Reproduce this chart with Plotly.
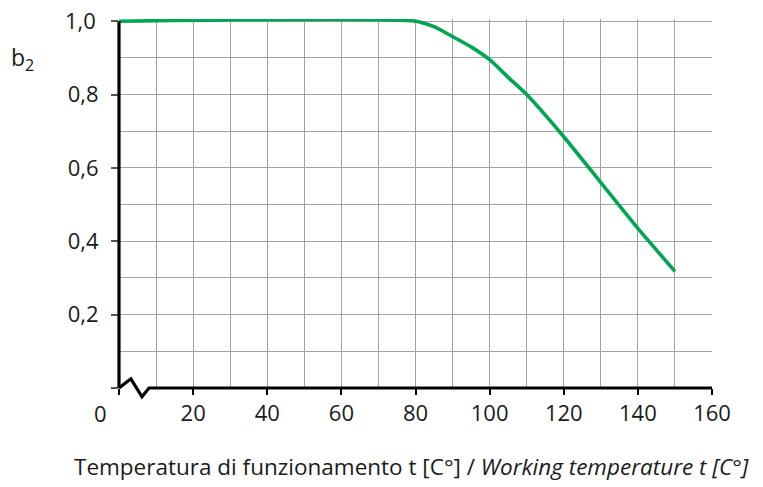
import plotly.graph_objects as go

# Data
temperature = [0, 80, 85, 90, 95, 100, 105, 110, 120, 130, 140, 150]
b2_values = [1.0, 1.0, 0.985, 0.958, 0.93, 0.895, 0.847, 0.80, 0.685, 0.56, 0.435, 0.318]

x_tickvals = [0, 20, 40, 60, 80, 100, 120, 140, 160]
x_ticktext = ["0", "20", "40", "60", "80", "100", "120", "140", "160"]
y_tickvals = [0, 0.2, 0.4, 0.6, 0.8, 1.0]
y_ticktext = ["", "0,2", "0,4", "0,6", "0,8", "1,0"]

FONT = "Open Sans"
TXT = "#1a1a1a"
GREEN = "#00a651"
GRID = "#a3a3a3"
Y_TOP = 1.006

# page geometry (body margin removed by post_script)
PL, PR, PT, PB = 118.5, 712.0, 19.0, 388.3   # plot area in page pixels
W, H = 763, 487


def paper_x(px):
    return (px - PL) / (PR - PL)


def paper_y(py):
    return (PB - py) / (PB - PT)


fig = go.Figure()
fig.add_trace(go.Scatter(
    x=temperature, y=b2_values, mode="lines",
    line=dict(color=GREEN, width=3.6, shape="spline", smoothing=0.6),
    hoverinfo="skip", showlegend=False,
))

fig.update_layout(
    width=W, height=H,
    margin=dict(l=PL, r=W - PR, t=PT, b=H - PB),
    paper_bgcolor="white", plot_bgcolor="white",
    font=dict(family=FONT, size=22, color=TXT),
    xaxis=dict(
        range=[0, 160], showline=False, zeroline=False, automargin=False,
        showgrid=True, gridcolor=GRID, gridwidth=1.3,
        tickmode="array", tickvals=x_tickvals, ticktext=[""] + x_ticktext[1:],
        ticks="outside", ticklen=6, tickwidth=2, tickcolor="black",
        tickfont=dict(family=FONT, size=22, color=TXT),
        minor=dict(dtick=10, showgrid=True, gridcolor=GRID, gridwidth=1.3),
    ),
    yaxis=dict(
        range=[0, Y_TOP], showline=False, zeroline=False, automargin=False,
        showgrid=True, gridcolor=GRID, gridwidth=1.3,
        tickmode="array", tickvals=y_tickvals, ticktext=y_ticktext[:-1] + [""],
        ticks="outside", ticklen=7, tickwidth=1.6, tickcolor="#555",
        ticklabelstandoff=8,
        tickfont=dict(family=FONT, size=22, color=TXT),
        minor=dict(dtick=0.1, showgrid=True, gridcolor=GRID, gridwidth=1.3),
    ),
)

# Axis lines and the axis-break zigzag (decoration)
fig.add_shape(type="line", xref="x domain", yref="y domain",
              x0=0, x1=0, y0=0, y1=1.0 / Y_TOP,
              line=dict(color="black", width=3.2), layer="above")
zig = "M 0,0 L 0.02,0.0249 L 0.0388,-0.0239 L 0.0506,0 L 1,0"
fig.add_shape(type="path", xref="x domain", yref="y domain", path=zig,
              line=dict(color="black", width=3.2), layer="above")

# "0" tick label shifted left because of the axis break
fig.add_annotation(x=x_tickvals[0], y=0, xref="x", yref="y", text=x_ticktext[0],
                   showarrow=False, xshift=-18.5, yshift=-25,
                   font=dict(family=FONT, size=22, color=TXT))

# top "1,0" label
fig.add_annotation(x=0, y=y_tickvals[-1], xref="paper", yref="y",
                   xanchor="right", yanchor="middle", xshift=-21.5, yshift=1,
                   text=y_ticktext[-1], showarrow=False,
                   font=dict(family=FONT, size=22, color=TXT))

# y label b2
fig.add_annotation(x=paper_x(22), y=paper_y(59), xref="paper", yref="paper",
                   xanchor="center", yanchor="middle",
                   text="b<sub>2</sub>", showarrow=False,
                   font=dict(family=FONT, size=23, color=TXT))

# x title
fig.add_annotation(
    x=paper_x(411), y=paper_y(467), xref="paper", yref="paper",
    xanchor="center", yanchor="middle",
    text="Temperatura di funzionamento t [C°] / <i>Working temperature t [C°]</i>",
    showarrow=False, font=dict(family=FONT, size=22.5, color=TXT),
)

fig.write_html("out.html", config={"displayModeBar": False},
               post_script="document.body.style.margin='0px';document.body.style.overflow='hidden';")
